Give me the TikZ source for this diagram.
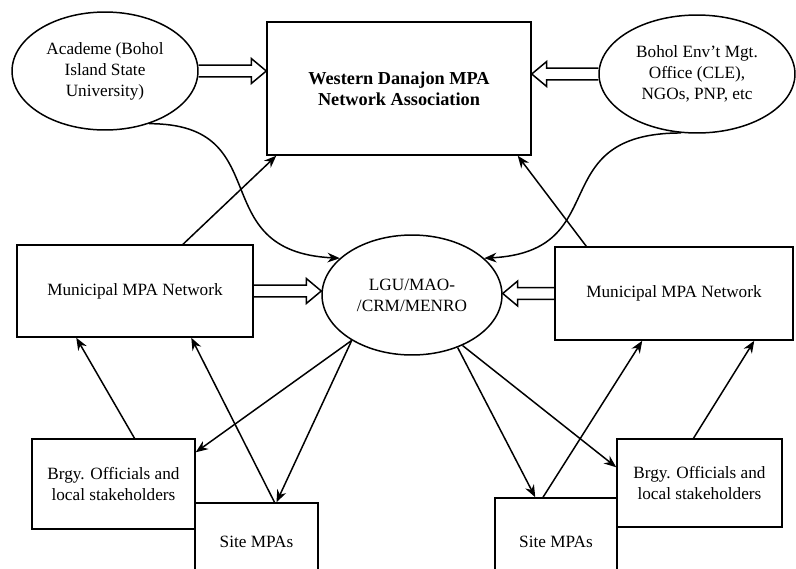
\documentclass[tikz,border=0pt]{standalone}
\usepackage{fontspec}
\setmainfont{Liberation Serif}
\usetikzlibrary{shapes.geometric,arrows.meta,calc}

\begin{document}
\begin{tikzpicture}[x=0.02cm,y=-0.02cm,>={Stealth[length=7pt,width=5.5pt]},
   line width=0.85pt,
   every node/.style={font=\fontsize{9.8}{12}\selectfont},
   box/.style={draw,rectangle,inner sep=0pt,align=center},
   oval/.style={draw,ellipse,inner sep=0pt,align=center},
   hollow/.style={to path={let \p1=(\tikztostart),\p2=(\tikztotarget),
     \n1={sign(\x2-\x1)} in
     (\x1,\y1+3.4pt) -- (\x2-\n1*8.5pt,\y1+3.4pt) -- (\x2-\n1*8.5pt,\y1+7.1pt)
     -- (\x2,\y1) -- (\x2-\n1*8.5pt,\y1-7.1pt) -- (\x2-\n1*8.5pt,\y1-3.4pt)
     -- (\x1,\y1-3.4pt)}}]
  \useasboundingbox (0,0) rectangle (796,569);
  \clip (0,0) rectangle (796,569);
  % top row
  \node (wda) [box,minimum width=5.28cm,minimum height=2.66cm] at (399,88.5)
    {\textbf{\fontsize{10.4}{12.4}\selectfont Western Danajon MPA}\\
     \textbf{\fontsize{10.4}{12.4}\selectfont Network Association}};
  \node (aca) [oval,minimum width=3.72cm,minimum height=2.36cm] at (105,71)
    {Academe (Bohol\\Island State\\University)};
  \node (benro) [oval,minimum width=3.92cm,minimum height=2.36cm] at (697,74)
    {Bohol Env'{}t Mgt.\\Office (CLE),\\NGOs, PNP, etc};
  % middle row
  \node (lgu) [oval,minimum width=3.6cm,minimum height=2.4cm] at (412,295)
    {LGU/MAO-\\/CRM/MENRO};
  \node (lmuni) [box,minimum width=4.72cm,minimum height=1.84cm] at (135,291)
    {Municipal MPA Network};
  \node (rmuni) [box,minimum width=4.76cm,minimum height=1.86cm] at (674,293.5)
    {Municipal MPA Network};
  % bottom row
  \node (lbrgy) [box,minimum width=3.26cm,minimum height=1.8cm] at (113.5,484)
    {Brgy. Officials and\\local stakeholders};
  \node (lsite) [box,minimum width=2.46cm,minimum height=1.56cm] at (256.5,542)
    {Site MPAs};
  \node (rsite) [box,minimum width=2.44cm,minimum height=1.76cm] at (556,542)
    {Site MPAs};
  \node (rbrgy) [box,minimum width=3.3cm,minimum height=1.76cm] at (699.5,483)
    {Brgy. Officials and\\local stakeholders};

  \draw[hollow] (aca.east) to (aca.east -| wda.west);
  \draw[hollow] (benro.west) to (benro.west -| wda.east);
  \draw[hollow] (lmuni.east) to (lmuni.east -| lgu.west);
  \draw[hollow] (rmuni.west) to (lgu.east);

  \draw[->] (aca.-50) .. controls +(130,0) and +(-138,-7) .. (lgu.153);
  \draw[->] (benro.-105) .. controls +(-140,0) and +(132,-7) .. (lgu.27);
  \draw[->] ($(lmuni.north)+(48,0)$) -- ($(wda.south west)+(10,0)$);
  \draw[->] ($(rmuni.north west)+(32,0)$) -- ($(wda.south east)+(-14,0)$);

  \draw[->] ($(lbrgy.north)+(21,0)$) -- ($(lmuni.south west)+(60,0)$);
  \draw[->] ($(lsite.north)+(18,0)$) -- ($(lmuni.south west)+(175,0)$);
  \draw[->] (lgu.-143) -- ($(lbrgy.north east)+(0,14)$);
  \draw[->] (lgu.-143) -- ($(lsite.north)+(20,0)$);
  \draw[->] ($(rsite.north)+(-13,0)$) -- ($(rmuni.south west)+(88,0)$);
  \draw[->] ($(rbrgy.north)+(-6,0)$) -- ($(rmuni.south west)+(200,0)$);
  \draw[->] (lgu.-49) -- ($(rsite.north west)+(41,0)$);
  \draw[->] (lgu.-45) -- ($(rbrgy.north west)+(0,29)$);
\end{tikzpicture}
\end{document}
